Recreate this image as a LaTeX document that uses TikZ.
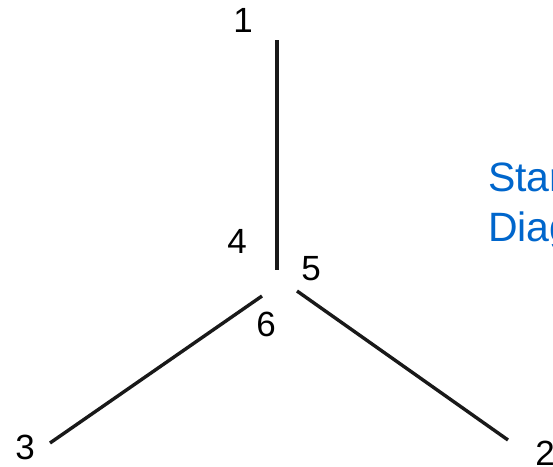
\documentclass[tikz,border=0pt]{standalone}
\usepackage{fontspec}
\setmainfont{Liberation Sans}
\definecolor{starblue}{RGB}{0,102,204}
\begin{document}
\begin{tikzpicture}[x=1pt,y=-1pt,font=\fontsize{35}{40}\selectfont,
  arm/.style={line width=3.4pt,draw=black!90},
  num/.style={inner sep=0pt}]
\useasboundingbox (0,0) rectangle (553,466);
% arms of the star
\coordinate (t1) at (277,40);\coordinate (t4) at (277,270);
\coordinate (b6) at (262,296);\coordinate (b3) at (50,443);
\coordinate (c5) at (297,291);\coordinate (c2) at (508,440);
\draw[arm] (t1)--(t4);
\draw[arm] (b6)--(b3);
\draw[arm] (c5)--(c2);
% numbers
\node[num] at (243,20) (n1) {1};
\node[num] at (545,453) (n2) {2};
\node[num] at (25,447) (n3) {3};
\node[num] at (237,241) (n4) {4};
\node[num] at (311,269) (n5) {5};
\node[num] at (266,324) (n6) {6};
\node[anchor=north west,inner sep=0pt,align=left,text=starblue,
  font=\fontsize{41}{50}\selectfont] at (488,163) (title) {Star\\Diagram};
\end{tikzpicture}
\end{document}
